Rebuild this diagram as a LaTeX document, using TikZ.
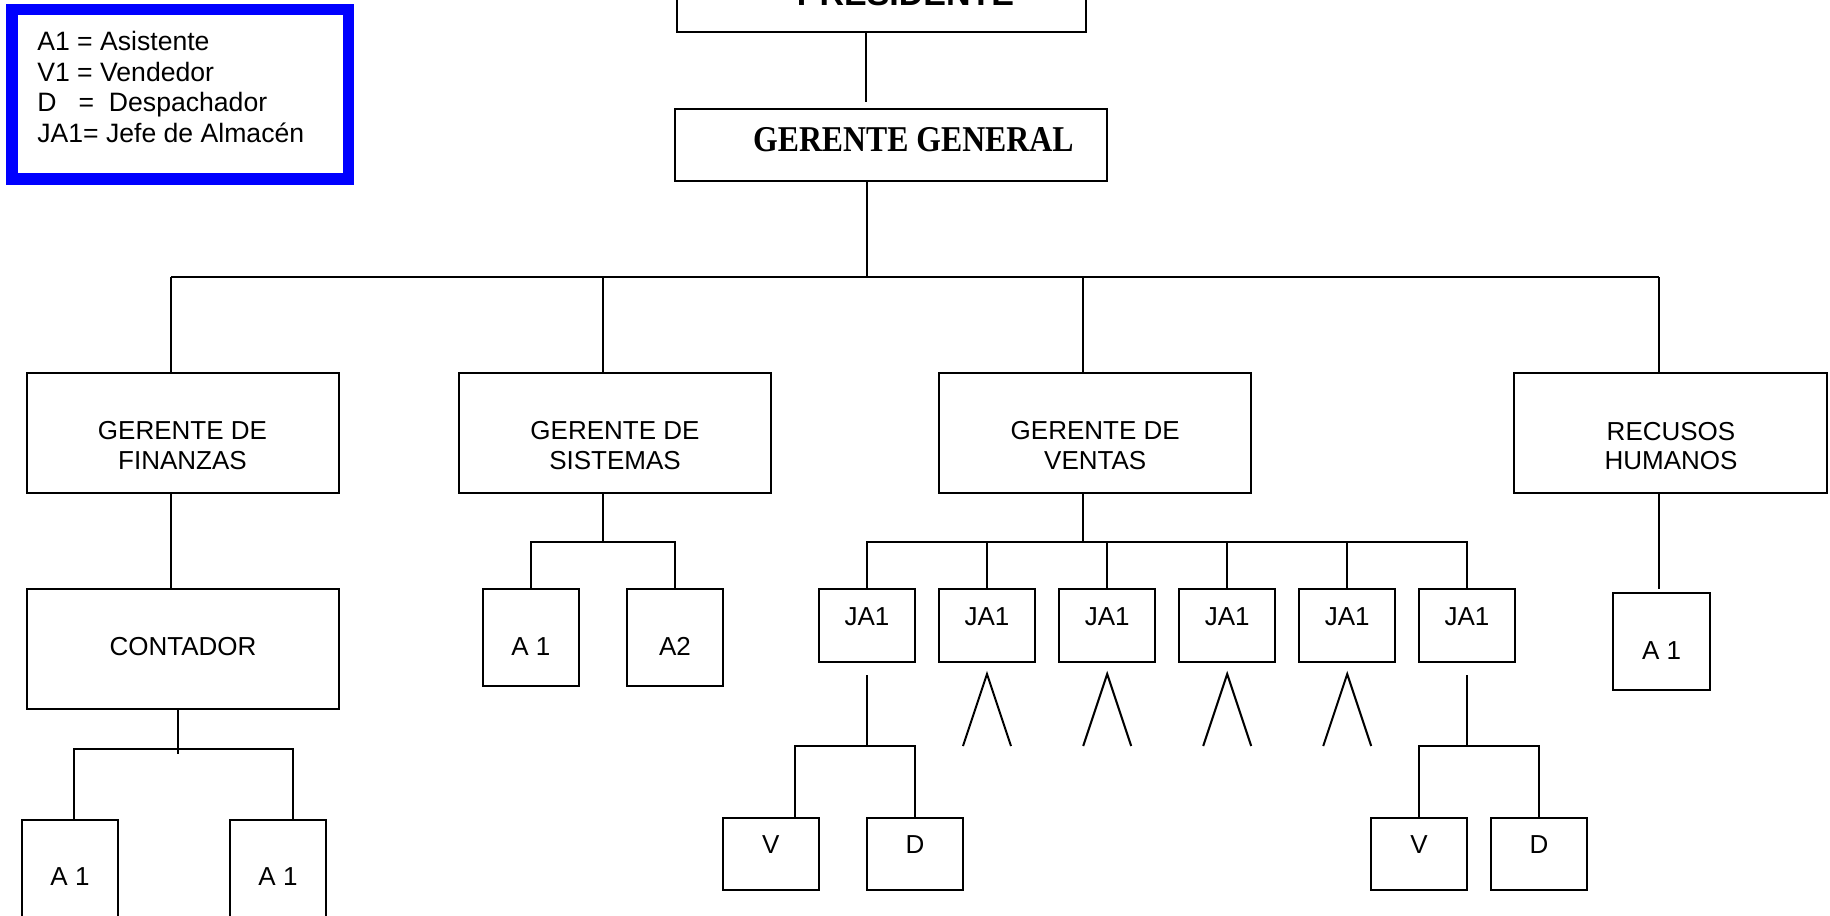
\documentclass[tikz,border=0pt]{standalone}
\usepackage{fontspec}
\setmainfont{Liberation Sans}
\newfontfamily\ggfont[FakeStretch=0.875]{Liberation Serif}
\begin{document}
\begin{tikzpicture}[x=1pt,y=-1pt,
  box/.style={draw, line width=2pt, inner sep=0pt, outer sep=0pt},
  bigbox/.style={box, minimum width=312pt, minimum height=120pt},
  jabox/.style={box, minimum width=96.3pt, minimum height=72.4pt},
  sqbox/.style={box, minimum width=96.3pt, minimum height=96.4pt},
  vdbox/.style={box, minimum width=96.3pt, minimum height=71.7pt},
  lbl/.style={inner sep=0pt, outer sep=0pt, font=\fontsize{26}{29.3}\selectfont, align=center},
  conn/.style={line width=2pt}]
\fill[white] (0,0) rectangle (1830,915);
\useasboundingbox (0,0) rectangle (1830,915);
\clip (0,0) rectangle (1830,915);

% legend
\node[draw=blue, line width=11.5pt, inner sep=0pt, minimum width=336.5pt, minimum height=169.3pt] (legend) at (180.4,94.1) {};
\node[lbl, align=left, anchor=north west, font=\fontsize{26.6}{30.8}\selectfont] (legtext) at (37.3,31) {A1 = Asistente\\V1 = Vendedor\\D\ \ \ =\ \ Despachador\\JA1= Jefe de Almac\'en};

% top
\node[box, minimum width=409pt, minimum height=72pt] (pres) at (881.5,-4) {};
\node[inner sep=0pt, anchor=base, font=\fontsize{34}{38}\selectfont\bfseries] (tpres) at (905.5,6) {PRESIDENTE};
\node[box, minimum width=432pt, minimum height=72pt] (gg) at (891,145) {};
\node[inner sep=0pt, anchor=base, font=\fontsize{36.3}{40}\selectfont\ggfont\bfseries] (tgg) at (913.3,151.7) {GERENTE GENERAL};

% level 2
\node[bigbox] (fin) at (183,433.3) {};
\node[bigbox] (sis) at (615,433.3) {};
\node[bigbox] (ven) at (1095.2,433.3) {};
\node[bigbox, minimum width=313pt] (rh) at (1670.5,433.3) {};
\node[lbl] (tfin) at (182.5,445.6) {GERENTE DE\\FINANZAS};
\node[lbl] (tsis) at (615,445.6) {GERENTE DE\\SISTEMAS};
\node[lbl] (tven) at (1095.2,445.6) {GERENTE DE\\VENTAS};
\node[lbl] (trh) at (1671,445.8) {RECUSOS\\HUMANOS};

% finanzas branch
\node[bigbox] (cont) at (183,649.3) {};
\node[lbl, anchor=base] (tcont) at (183,655) {CONTADOR};
\node[sqbox] (cA1) at (70,868.3) {};
\node[sqbox] (cA2) at (278,868.3) {};
\node[lbl, anchor=base] (tcA1) at (70,885) {A 1};
\node[lbl, anchor=base] (tcA2) at (278,885) {A 1};

% sistemas branch
\node[sqbox] (sA1) at (530.9,637.5) {};
\node[sqbox] (sA2) at (675,637.5) {};
\node[lbl, anchor=base] (tsA1) at (530.9,655) {A 1};
\node[lbl, anchor=base] (tsA2) at (675,655) {A2};

% ventas branch
\foreach \i/\x in {1/866.9,2/987,3/1107.2,4/1227.2,5/1347.2,6/1467}{
  \node[jabox] (ja\i) at (\x,625.5) {};
  \node[lbl, anchor=base] (tja\i) at (\x,625) {JA1};
}
\node[vdbox] (v1) at (770.9,854.2) {};
\node[vdbox] (d1) at (915,854.2) {};
\node[vdbox] (v2) at (1419,854.2) {};
\node[vdbox] (d2) at (1539,854.2) {};
\node[lbl, anchor=base] (tv1) at (770.9,853.3) {V};
\node[lbl, anchor=base] (td1) at (915,853.3) {D};
\node[lbl, anchor=base] (tv2) at (1419,853.3) {V};
\node[lbl, anchor=base] (td2) at (1539,853.3) {D};

% rrhh branch
\node[box, minimum width=97pt, minimum height=97pt] (rA1) at (1661.5,641.5) {};
\node[lbl, anchor=base] (trA1) at (1661.5,659) {A 1};

% helper coordinates
\coordinate (cp) at (866,0);
\coordinate (bus) at (867,277.3);
\coordinate (k1) at (171,277.3);
\coordinate (k2) at (603,277.3);
\coordinate (k3) at (1083,277.3);
\coordinate (k4) at (1659,277.3);
\coordinate (ctail) at (178,754);
\coordinate (cl) at (74,749);
\coordinate (cr) at (292.7,749);
\coordinate (sj) at (603,541.7);
\coordinate (vj) at (1083,541.7);
\coordinate (j1) at (866.9,746);
\coordinate (vl) at (795,746);
\coordinate (j6) at (1467,746);

% connectors
\draw[conn, shorten >=7pt] (pres.south -| cp) -- (gg.north -| cp);
\draw[conn] (gg.south -| bus) -- (bus);
\draw[conn] (k1) -- (k4);
\draw[conn] (k1) -- (fin.north -| k1);
\draw[conn] (k2) -- (sis.north -| k2);
\draw[conn] (k3) -- (ven.north -| k3);
\draw[conn] (k4) -- (rh.north -| k4);

\draw[conn] (fin.south -| k1) -- (cont.north -| k1);
\draw[conn] (cont.south -| ctail) -- (ctail);
\draw[conn] (cA1.north -| cl) -- (cl) -- (cr) -- (cA2.north -| cr);

\draw[conn] (sis.south -| sj) -- (sj);
\draw[conn] (sA1.north) -- (sA1.north |- sj) -- (sA2.north |- sj) -- (sA2.north);

\draw[conn] (ven.south -| vj) -- (vj);
\draw[conn] (ja1.north) -- (ja1.north |- vj) -- (ja6.north |- vj) -- (ja6.north);
\foreach \i in {2,3,4,5}{
  \draw[conn] (ja\i.north) -- (ja\i.north |- vj);
  \draw[conn, line join=miter] (ja\i.south) ++(-24,84.3) -- ++(24,-72) -- ++(24,72);
}

\draw[conn, shorten <=13.3pt] (ja1.south) -- (j1);
\draw[conn] (v1.north -| vl) -- (vl) -- (d1.north |- vl) -- (d1.north);
\draw[conn, shorten <=13.3pt] (ja6.south) -- (j6);
\draw[conn] (v2.north) -- (v2.north |- j6) -- (d2.north |- j6) -- (d2.north);

\draw[conn, shorten >=4pt] (rh.south -| k4) -- (rA1.north -| k4);
\end{tikzpicture}
\end{document}
